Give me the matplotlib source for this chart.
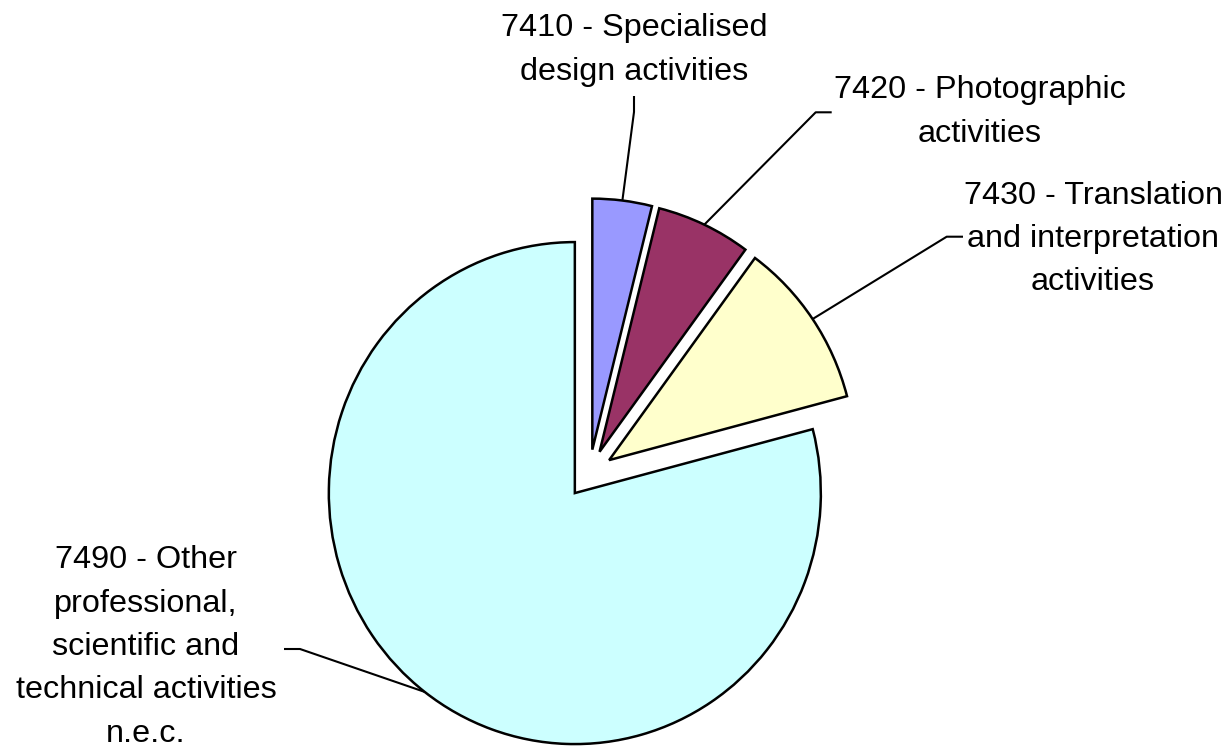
import numpy as np
import matplotlib
matplotlib.use("Agg")
import matplotlib.pyplot as plt

# NACE 74 breakdown (shares, %)
labels = [
    "7410 - Specialised\ndesign activities",
    "7420 - Photographic\nactivities",
    "7430 - Translation\nand interpretation\nactivities",
    "7490 - Other\nprofessional,\nscientific and\ntechnical activities\nn.e.c.",
]
shares = [3.9, 6.2, 10.8, 79.1]
colors = ["#9999FF", "#993366", "#FFFFCC", "#CCFFFF"]

W, H = 1227, 750
CX, CY = 589.4, 473.8      # pie centre in pixels (from top-left)
SX, SY = 246.0, 251.0      # pixels per radius, horizontally / vertically


def to_data(xp, yp):
    return (xp - CX) / SX, (CY - yp) / SY


fig = plt.figure(figsize=(W / 100, H / 100), dpi=100)
ax = fig.add_axes([0, 0, 1, 1])

wedges, _ = ax.pie(shares, colors=colors, startangle=90, counterclock=False,
                   explode=[0.097] * len(shares), radius=1.0,
                   wedgeprops=dict(edgecolor="black", linewidth=1.8))

ax.set_aspect("auto")
ax.set_xlim(-CX / SX, (W - CX) / SX)
ax.set_ylim(-(H - CY) / SY, CY / SY)
ax.axis("off")

# leader line elbows / ends and label centres (pixels)
leaders = [
    [(634, 112), (634, 96)],
    [(815.7, 112.3), (831.7, 112.3)],
    [(946.7, 236.7), (963, 236.7)],
    [(300, 649), (284, 649)],
]
label_pos = [(634, 50), (979.5, 112), (1093, 239), (146, 647)]

for w, pts, lab, lp in zip(wedges, leaders, labels, label_pos):
    mid = np.deg2rad((w.theta1 + w.theta2) / 2)
    x0 = w.center[0] + w.r * np.cos(mid)
    y0 = w.center[1] + w.r * np.sin(mid)
    xs = [x0] + [to_data(*p)[0] for p in pts]
    ys = [y0] + [to_data(*p)[1] for p in pts]
    ax.plot(xs, ys, color="black", lw=1.5, solid_capstyle="butt", zorder=0)
    tx, ty = to_data(*lp)
    ax.text(tx, ty, lab, ha="center", va="center", multialignment="center",
            fontsize=23.3, family="Liberation Sans", linespacing=1.58)

fig.savefig("out.png", dpi=100)
